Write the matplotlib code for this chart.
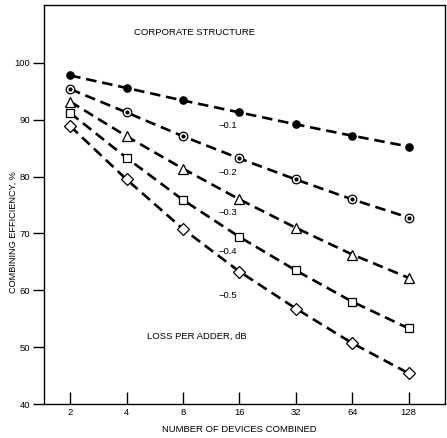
import matplotlib.pyplot as plt
import numpy as np

plt.rcParams['font.family'] = ['Liberation Sans', 'DejaVu Sans']

# datos
devices = [2, 4, 8, 16, 32, 64, 128]
eff_01 = [97.8, 95.6, 93.4, 91.3, 89.2, 87.2, 85.3]
eff_02 = [95.4, 91.3, 87.1, 83.2, 79.5, 76.0, 72.8]
eff_03 = [93.2, 87.1, 81.4, 76.0, 71.0, 66.3, 62.2]
eff_04 = [91.2, 83.3, 75.9, 69.4, 63.5, 58.0, 53.3]
eff_05 = [88.9, 79.5, 70.8, 63.3, 56.8, 50.7, 45.4]
loss_labels = ['\u22120.1', '\u22120.2', '\u22120.3', '\u22120.4', '\u22120.5']
label_y = [89.0, 80.8, 73.7, 66.8, 59.1]
xticks = [2, 4, 8, 16, 32, 64, 128]
yticks = [40, 50, 60, 70, 80, 90, 100]

W, H = 447, 438
fig = plt.figure(figsize=(W / 100, H / 100), dpi=100)
ax = fig.add_axes([44 / W, 1 - 404 / H, (445 - 44) / W, (404 - 5) / H])

dash = dict(color='black', lw=1.9, dashes=(4, 2.2))
ax.plot(devices, eff_01, marker='o', ms=5.2, mfc='black', mec='black', **dash)
ax.plot(devices, eff_02, marker='o', ms=6.2, mfc='white', mec='black', mew=0.9, **dash)
ax.plot(devices, eff_02, ls='none', marker='o', ms=2.0, color='black')
ax.plot(devices, eff_03, marker='^', ms=6.5, mfc='white', mec='black', mew=0.9, **dash)
ax.plot(devices, eff_04, marker='s', ms=6.2, mfc='white', mec='black', mew=0.9, **dash)
ax.plot(devices, eff_05, marker='D', ms=5.8, mfc='white', mec='black', mew=0.9, **dash)

ax.set_xscale('log', base=2)
ax.set_xlim(1.45, 200)
ax.set_ylim(40, 110.2)
ax.set_xticks(xticks)
ax.set_xticklabels([str(v) for v in xticks])
ax.minorticks_off()
ax.set_yticks(yticks)
ax.tick_params(axis='x', direction='in', length=9, width=1, labelsize=6.8, pad=3)
ax.tick_params(axis='y', direction='out', length=8, width=1, labelsize=6.8, pad=2)
for s in ax.spines.values():
    s.set_linewidth(1)

# etiquetas de las curvas
for lab, yv in zip(loss_labels, label_y):
    ax.text(13.9, yv, lab, fontsize=6.8, ha='center', va='center')

ax.text(0.375, 0.932, 'CORPORATE STRUCTURE', transform=ax.transAxes,
        fontsize=6.8, ha='center', va='center')
ax.text(0.38, 0.17, 'LOSS PER ADDER, dB', transform=ax.transAxes,
        fontsize=6.8, ha='center', va='center')

fig.text(239 / W, 1 - 429 / H, 'NUMBER OF DEVICES COMBINED', fontsize=6.8,
         ha='center', va='center')
fig.text(13 / W, 1 - 232 / H, 'COMBINING EFFICIENCY, %', fontsize=6.6,
         ha='center', va='center', rotation=90)

fig.savefig('out.png', dpi=100)
